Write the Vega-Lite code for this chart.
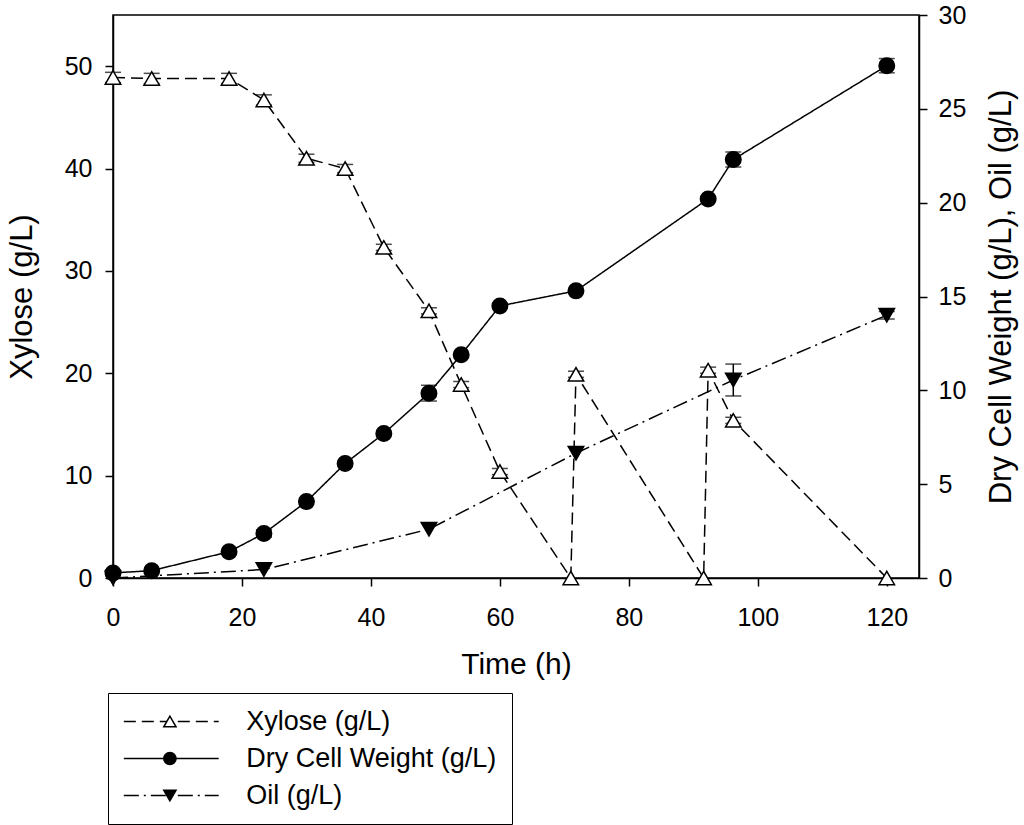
{
  "$schema": "https://vega.github.io/schema/vega-lite/v6.json",
  "width": 806,
  "height": 563,
  "autosize": "none",
  "padding": {"left": 113, "top": 15, "right": 105, "bottom": 247},
  "config": {
    "font": "Liberation Sans",
    "view": {"stroke": "black", "strokeWidth": 1.5},
    "axis": {
      "grid": false,
      "labelFlush": false,
      "labelOverlap": false,
      "domainColor": "black",
      "domainWidth": 1.5,
      "tickColor": "black",
      "tickWidth": 1.5,
      "tickSize": 8,
      "labelColor": "black",
      "labelFont": "Liberation Sans",
      "labelFontSize": 25,
      "titleColor": "black",
      "titleFont": "Liberation Sans",
      "titleFontSize": 30,
      "titleFontWeight": "normal"
    }
  },
  "data": {
    "values": [
      {"series": "Xylose (g/L)", "t": 0, "v": 48.9, "err": 0.5},
      {"series": "Xylose (g/L)", "t": 6, "v": 48.8, "err": 0.5},
      {"series": "Xylose (g/L)", "t": 18, "v": 48.8, "err": 0.5},
      {"series": "Xylose (g/L)", "t": 23.4, "v": 46.7, "err": 0.5},
      {"series": "Xylose (g/L)", "t": 30, "v": 41.0, "err": 0.4},
      {"series": "Xylose (g/L)", "t": 36, "v": 40.0, "err": 0.4},
      {"series": "Xylose (g/L)", "t": 42, "v": 32.3, "err": 0.3},
      {"series": "Xylose (g/L)", "t": 49, "v": 26.1, "err": 0.3},
      {"series": "Xylose (g/L)", "t": 54, "v": 18.9, "err": 0.3},
      {"series": "Xylose (g/L)", "t": 60, "v": 10.4, "err": 0.3},
      {"series": "Xylose (g/L)", "t": 71, "v": 0.0, "err": null},
      {"series": "Xylose (g/L)", "t": 71.8, "v": 19.9, "err": 0.3},
      {"series": "Xylose (g/L)", "t": 91.6, "v": 0.0, "err": null},
      {"series": "Xylose (g/L)", "t": 92.3, "v": 20.3, "err": 0.3},
      {"series": "Xylose (g/L)", "t": 96.2, "v": 15.4, "err": 0.3},
      {"series": "Xylose (g/L)", "t": 120, "v": 0.0, "err": null},
      {"series": "Dry Cell Weight (g/L)", "t": 0, "v": 0.27, "err": 0.15},
      {"series": "Dry Cell Weight (g/L)", "t": 6, "v": 0.39, "err": null},
      {"series": "Dry Cell Weight (g/L)", "t": 18, "v": 1.4, "err": null},
      {"series": "Dry Cell Weight (g/L)", "t": 23.4, "v": 2.37, "err": 0.2},
      {"series": "Dry Cell Weight (g/L)", "t": 30, "v": 4.07, "err": null},
      {"series": "Dry Cell Weight (g/L)", "t": 36, "v": 6.1, "err": null},
      {"series": "Dry Cell Weight (g/L)", "t": 42, "v": 7.7, "err": null},
      {"series": "Dry Cell Weight (g/L)", "t": 49, "v": 9.85, "err": 0.42},
      {"series": "Dry Cell Weight (g/L)", "t": 54, "v": 11.9, "err": null},
      {"series": "Dry Cell Weight (g/L)", "t": 60, "v": 14.5, "err": null},
      {"series": "Dry Cell Weight (g/L)", "t": 71.8, "v": 15.3, "err": null},
      {"series": "Dry Cell Weight (g/L)", "t": 92.3, "v": 20.2, "err": null},
      {"series": "Dry Cell Weight (g/L)", "t": 96.2, "v": 22.3, "err": 0.4},
      {"series": "Dry Cell Weight (g/L)", "t": 120, "v": 27.3, "err": 0.38},
      {"series": "Oil (g/L)", "t": 0, "v": 0.0, "err": null},
      {"series": "Oil (g/L)", "t": 23.4, "v": 0.45, "err": null},
      {"series": "Oil (g/L)", "t": 49, "v": 2.6, "err": null},
      {"series": "Oil (g/L)", "t": 71.8, "v": 6.65, "err": null},
      {"series": "Oil (g/L)", "t": 96.2, "v": 10.55, "err": 0.85},
      {"series": "Oil (g/L)", "t": 120, "v": 14.0, "err": 0.2}
    ]
  },
  "encoding": {
    "x": {
      "field": "t",
      "type": "quantitative",
      "scale": {"domain": [0, 125], "nice": false},
      "axis": {"title": "Time (h)", "values": [0, 20, 40, 60, 80, 100, 120], "labelPadding": 19, "titlePadding": 19}
    }
  },
  "layer": [
    {
      "transform": [{"filter": "datum.series === 'Xylose (g/L)'"}],
      "encoding": {
        "y": {
          "field": "v",
          "type": "quantitative",
          "scale": {"domain": [0, 55], "nice": false},
          "axis": {"orient": "left", "title": "Xylose (g/L)", "titleFontSize": 31, "values": [0, 10, 20, 30, 40, 50], "labelPadding": 13, "titlePadding": 26}
        }
      },
      "layer": [
        {
          "mark": {"type": "line", "color": "black", "strokeWidth": 1.5},
          "encoding": {
            "strokeDash": {
              "field": "series",
              "type": "nominal",
              "scale": {"domain": ["Xylose (g/L)", "Dry Cell Weight (g/L)", "Oil (g/L)"], "range": [[12, 6], [1, 0], [15, 5, 2, 5]]},
              "legend": {
                "title": null,
                "orient": "none",
                "legendX": -5,
                "legendY": 678,
                "symbolType": "M-10,0H10",
                "symbolSize": 90,
                "symbolStrokeWidth": 1.5,
                "symbolStrokeColor": "black",
                "symbolOffset": 34.75,
                "labelOffset": 61.5,
                "labelFontSize": 27,
                "labelLimit": 400,
                "labelColor": "black",
                "padding": 15,
                "rowPadding": 9,
                "strokeColor": "black"
              }
            }
          }
        },
        {
          "transform": [{"filter": "isValid(datum.err)"}],
          "mark": {"type": "errorbar", "color": "black", "thickness": 1.5, "ticks": {"size": 16, "thickness": 1.5, "color": "black"}},
          "encoding": {"yError": {"field": "err"}}
        },
        {
          "mark": {"type": "point", "filled": true, "size": 240, "strokeWidth": 1.5, "opacity": 1},
          "encoding": {
            "shape": {
              "field": "series",
              "type": "nominal",
              "sort": {"field": "v", "op": "max", "order": "descending"},
              "scale": {"range": ["triangle-up", "circle", "triangle-down"]},
              "legend": {
                "title": null,
                "orient": "none",
                "legendX": -5,
                "legendY": 678,
                "symbolSize": 150,
                "symbolStrokeWidth": 1.5,
                "symbolOffset": 33.4,
                "labelExpr": "''",
                "labelFontSize": 27,
                "padding": 15,
                "rowPadding": 9
              }
            },
            "fill": {
              "field": "series",
              "type": "nominal",
              "sort": {"field": "v", "op": "max", "order": "descending"},
              "scale": {"range": ["#ffffff", "#000000", "#000000"]},
              "legend": {
                "title": null,
                "orient": "none",
                "legendX": -5,
                "legendY": 678,
                "symbolSize": 150,
                "symbolStrokeWidth": 1.5,
                "symbolOffset": 33.4,
                "labelExpr": "''",
                "labelFontSize": 27,
                "padding": 15,
                "rowPadding": 9
              }
            },
            "stroke": {
              "field": "series",
              "type": "nominal",
              "sort": {"field": "v", "op": "max", "order": "descending"},
              "scale": {"range": ["#000000", "#000000", "#000000"]},
              "legend": {
                "title": null,
                "orient": "none",
                "legendX": -5,
                "legendY": 678,
                "symbolSize": 150,
                "symbolStrokeWidth": 1.5,
                "symbolOffset": 33.4,
                "labelExpr": "''",
                "labelFontSize": 27,
                "padding": 15,
                "rowPadding": 9
              }
            }
          }
        }
      ]
    },
    {
      "transform": [{"filter": "datum.series !== 'Xylose (g/L)'"}],
      "encoding": {
        "y": {
          "field": "v",
          "type": "quantitative",
          "scale": {"domain": [0, 30], "nice": false},
          "axis": {"orient": "right", "title": "Dry Cell Weight (g/L), Oil (g/L)", "titleFontSize": 31, "values": [0, 5, 10, 15, 20, 25, 30], "labelPadding": 11, "titlePadding": 52, "titleAngle": -90}
        }
      },
      "layer": [
        {
          "mark": {"type": "line", "color": "black", "strokeWidth": 1.5},
          "encoding": {
            "strokeDash": {
              "field": "series",
              "type": "nominal",
              "scale": {"domain": ["Xylose (g/L)", "Dry Cell Weight (g/L)", "Oil (g/L)"], "range": [[12, 6], [1, 0], [15, 5, 2, 5]]}
            }
          }
        },
        {
          "transform": [{"filter": "isValid(datum.err)"}],
          "mark": {"type": "errorbar", "color": "black", "thickness": 1.5, "ticks": {"size": 16, "thickness": 1.5, "color": "black"}},
          "encoding": {"yError": {"field": "err"}}
        },
        {
          "mark": {"type": "point", "filled": true, "size": 240, "strokeWidth": 1.5, "opacity": 1},
          "encoding": {
            "shape": {
              "field": "series",
              "type": "nominal",
              "sort": {"field": "v", "op": "max", "order": "descending"}
            },
            "fill": {
              "field": "series",
              "type": "nominal",
              "sort": {"field": "v", "op": "max", "order": "descending"}
            },
            "stroke": {
              "field": "series",
              "type": "nominal",
              "sort": {"field": "v", "op": "max", "order": "descending"}
            }
          }
        }
      ]
    }
  ],
  "resolve": {"scale": {"y": "independent"}}
}
